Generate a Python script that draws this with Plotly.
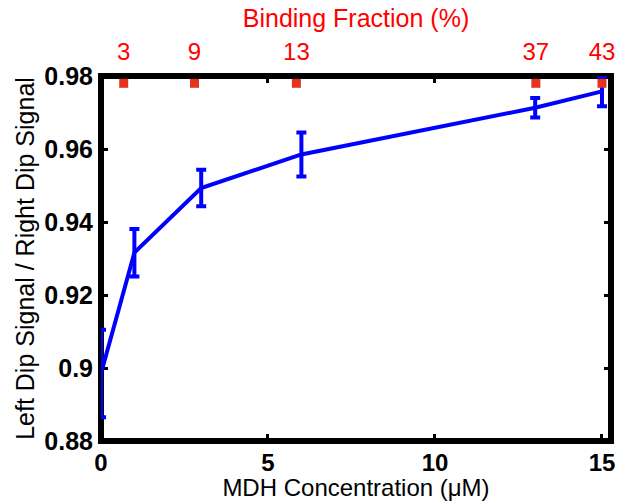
import plotly.graph_objects as go

# Data
conc = [0, 1, 3, 6, 13, 15]
ratio = [0.8985, 0.9316, 0.9493, 0.9585, 0.9713, 0.9758]
err_plus = [0.012, 0.0065, 0.0050, 0.0060, 0.0027, 0.0041]
err_minus = [0.012, 0.0065, 0.0050, 0.0060, 0.0027, 0.0041]

bind_pos = [0.68, 2.8, 5.85, 13.02, 15.0]
bind_labels = ["3", "9", "13", "37", "43"]
bind_marker_y = [0.978, 0.978, 0.978, 0.978, 0.978]

x_ticks = [0, 5, 10, 15]
y_ticks = [0.88, 0.9, 0.92, 0.94, 0.96, 0.98]
y_ticktext = ["0.88", "0.9", "0.92", "0.94", "0.96", "0.98"]

XR = [0, 15.27]
YR = [0.88, 0.98]
FONT = "Liberation Sans, Arial, sans-serif"

fig = go.Figure()

fig.add_trace(go.Scatter(
    x=bind_pos, y=bind_marker_y, xaxis="x2", yaxis="y",
    mode="markers",
    marker=dict(symbol="square", size=9, color="#E6321E"),
    showlegend=False, hoverinfo="skip"))

fig.add_trace(go.Scatter(
    x=conc, y=ratio, mode="lines",
    line=dict(color="#0000FF", width=4),
    error_y=dict(type="data", symmetric=False, array=err_plus,
                 arrayminus=err_minus, color="#0000FF",
                 thickness=4, width=5),
    showlegend=False))

fig.update_layout(
    width=621, height=501,
    margin=dict(l=101, r=6, t=76, b=60),
    paper_bgcolor="white", plot_bgcolor="white",
    font=dict(family=FONT, color="black"),
    xaxis=dict(
        range=XR, tickvals=x_ticks, ticktext=[str(v) for v in x_ticks],
        ticks="inside", ticklen=7, tickwidth=2.5, tickcolor="black",
        mirror="ticks", showline=False, showgrid=False, zeroline=False,
        tickfont=dict(family=FONT, size=24, weight="bold", color="black"),
        ticklabelstandoff=5,
        title=dict(text="MDH Concentration (\u03bcM)",
                   font=dict(family=FONT, size=24, color="black"),
                   standoff=1),
        layer="below traces",
    ),
    xaxis2=dict(
        overlaying="x", side="top", range=XR,
        tickvals=bind_pos, ticktext=bind_labels,
        ticks="", showline=False, showgrid=False, zeroline=False,
        tickfont=dict(family=FONT, size=24, color="#FF0000"),
        ticklabelstandoff=10,
        title=dict(text="Binding Fraction (%)",
                   font=dict(family=FONT, size=25, color="#FF0000"),
                   standoff=3),
    ),
    yaxis=dict(
        range=YR, tickvals=y_ticks, ticktext=y_ticktext,
        ticks="inside", ticklen=7, tickwidth=2.5, tickcolor="black",
        mirror="ticks", showline=False, showgrid=False, zeroline=False,
        tickfont=dict(family=FONT, size=25, weight="bold", color="black"),
        ticklabelstandoff=7,
        title=dict(text="Left Dip Signal / Right Dip Signal",
                   font=dict(family=FONT, size=25, color="black"),
                   standoff=2),
        layer="below traces",
    ),
    shapes=[dict(type="rect", xref="paper", yref="paper",
                 x0=0, x1=1, y0=0, y1=1,
                 line=dict(color="black", width=6), layer="below")],
)

fig.write_html("out.html")
